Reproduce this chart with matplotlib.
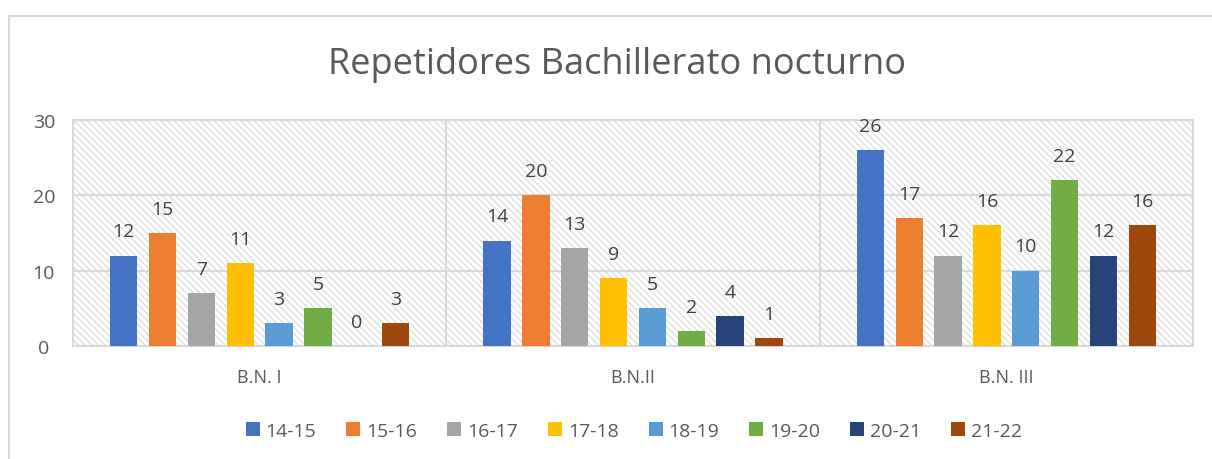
import matplotlib
matplotlib.use("Agg")
import matplotlib.pyplot as plt
from matplotlib.patches import Patch
from matplotlib.lines import Line2D
import numpy as np

categories = ["B.N. I", "B.N.II", "B.N. III"]
series_names = ["14-15", "15-16", "16-17", "17-18", "18-19", "19-20", "20-21", "21-22"]
values = {
    "14-15": [12, 14, 26],
    "15-16": [15, 20, 17],
    "16-17": [7, 13, 12],
    "17-18": [11, 9, 16],
    "18-19": [3, 5, 10],
    "19-20": [5, 2, 22],
    "20-21": [0, 4, 12],
    "21-22": [3, 1, 16],
}
colors = ["#4472C4", "#ED7D31", "#A5A5A5", "#FFC000", "#5B9BD5", "#70AD47", "#264478", "#9E480E"]
yticks = [0, 10, 20, 30]

plt.rcParams['font.family'] = ['Open Sans', 'DejaVu Sans']
plt.rcParams['hatch.linewidth'] = 0.8
plt.rcParams['hatch.color'] = '#d9d9d9'

fig = plt.figure(figsize=(12.12, 4.6), dpi=100)
ax = fig.add_axes([73/1212, 1-347/460, (1193-73)/1212, (347-121)/460])

# chart border
fig.add_artist(Line2D([8.5/1212, 8.5/1212], [0, 1-16.5/460], transform=fig.transFigure, color='#d9d9d9', lw=1.5))
fig.add_artist(Line2D([8.5/1212, 1], [1-16.5/460, 1-16.5/460], transform=fig.transFigure, color='#d9d9d9', lw=1.5))

ax.patch.set_facecolor('white')
ax.patch.set_edgecolor('#d9d9d9')
ax.patch.set_hatch('\\' * 5)

x = np.arange(len(categories))
spacing = 0.104
width = 0.073
for i, (name, c) in enumerate(zip(series_names, colors)):
    pos = x + (i - 3.5) * spacing
    vals = values[name]
    ax.bar(pos, vals, width=width, color=c, zorder=3, label=name)
    for p, v in zip(pos, vals):
        ax.annotate(str(v), (p, v), xytext=(0, 11), textcoords='offset points',
                    ha='center', va='bottom', fontsize=14, color='#404040', zorder=4)

ax.set_xlim(-0.5, 2.5)
ax.set_ylim(0, 30)
ax.set_yticks(yticks)
ax.set_xticks(x)
ax.set_xticklabels(categories)
ax.tick_params(axis='both', length=0, labelcolor='#595959')
ax.tick_params(axis='x', pad=16, labelsize=13)
ax.tick_params(axis='y', pad=21, labelsize=14)
for lbl in ax.get_yticklabels():
    lbl.set_horizontalalignment('center')
for yv in yticks[1:]:
    ax.axhline(yv, color='#d9d9d9', lw=1.5, zorder=1)
for xv in [0.5, 1.5]:
    ax.axvline(xv, color='#d9d9d9', lw=1.5, zorder=1)
for s in ax.spines.values():
    s.set_color('#d9d9d9')
    s.set_linewidth(1.5)

fig.text(617/1212, 1-65/460, "Repetidores Bachillerato nocturno", ha='center', va='center', fontsize=26, color='#595959')

handles = [Patch(facecolor=c, edgecolor='none') for c in colors]
fig.legend(handles, series_names, loc='center', bbox_to_anchor=(634/1212, 1-432/460), ncol=8, frameon=False,
           fontsize=14, labelcolor='#595959', handlelength=0.72, handleheight=0.72, handletextpad=0.3, columnspacing=1.55)

fig.savefig("out.png", dpi=100)
